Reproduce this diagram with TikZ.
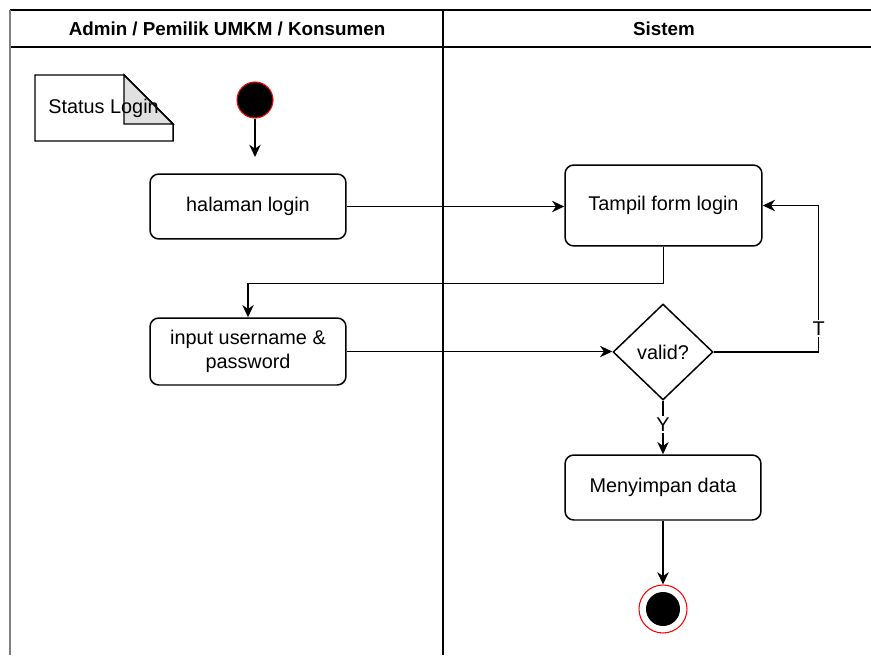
\documentclass[tikz,border=0pt]{standalone}
\usepackage{fontspec}
\setmainfont{Liberation Sans}
\usetikzlibrary{shapes.geometric,arrows.meta}

\tikzset{
    act/.style={draw, line width=0.85pt, rounded corners=5pt, minimum width=3.92cm,
        minimum height=1.3cm, align=center, font=\fontsize{11.3}{13.6}\selectfont},
    decide/.style={draw, line width=0.85pt, diamond, aspect=1, minimum width=2cm,
        minimum height=1.92cm, inner sep=0pt, font=\fontsize{11.3}{13.6}\selectfont},
    flow/.style={line width=0.85pt, -{Stealth[length=7pt, width=6.5pt]}},
    lbl/.style={fill=white, inner sep=1pt, font=\fontsize{11.3}{13.6}\selectfont},
    lanehead/.style={font=\bfseries\fontsize{10.7}{13}\selectfont},
}

\begin{document}
\begin{tikzpicture}[x={(0.02cm,0cm)}, y={(0cm,-0.02cm)}]

    \useasboundingbox (0,0) rectangle (871,655);

    %% Swimlanes
    \draw[line width=1.2pt] (10,10) -- (871,10);
    \draw[line width=1.2pt] (10,47) -- (871,47);
    \draw[line width=1.6pt, gray] (10,10) -- (10,655);
    \draw[line width=1pt] (443,10) -- (443,655);
    \node[lanehead] (laneuser) at (227,29) {Admin / Pemilik UMKM / Konsumen};
    \node[lanehead] (lanesys) at (664,29) {Sistem};

    %% Note
    \draw[line width=0.85pt, fill=white] (35,75) -- (124,75) -- (173,124) -- (173,141) -- (35,141) -- cycle;
    \draw[line width=0.85pt, fill=black!12] (124,75) -- (124,124) -- (173,124) -- cycle;
    \node[anchor=west, inner sep=0pt, font=\fontsize{11.3}{13.6}\selectfont] (note) at (48,108) {Status Login};

    %% Start
    \node[circle, fill=black, draw=red, line width=0.6pt, minimum size=0.72cm, inner sep=0pt] (start) at (255,100) {};
    \coordinate (startend) at (255,157);
    \draw[flow] (start) -- (startend);

    % Activities
    \node[act] (halaman) at (248,206.5) {halaman login};
    \node[act, minimum width=3.94cm, minimum height=1.62cm] (tampil) at (663.5,205.5) {Tampil form login};
    \node[act, minimum height=1.34cm] (input) at (248,351.5) {input username \&\\password};
    \node[decide] (valid) at (663,352) {valid?};
    \node[act] (simpan) at (663,487.5) {Menyimpan data};

    %% End
    \node[circle, draw=red, fill=white, line width=0.6pt, minimum size=0.96cm, inner sep=0pt,
        path picture={\fill[black] (path picture bounding box.center) circle (0.34cm);}] (end) at (663,609) {};

    % Flows
    \draw[flow] (halaman.east) -- (halaman.east -| tampil.west);
    \draw[flow] (tampil.south) -- ++(0,37) -| (input.north);
    \draw[flow] (input.east) -- (input.east -| valid.west);
    \draw[flow] (valid.east) -- ++(105,0) |- (tampil.east) node[lbl, pos=0.08] {T};
    \draw[flow] (valid.south) -- (simpan.north) node[lbl, pos=0.45] {Y};
    \draw[flow] (simpan.south) -- (end.north);

\end{tikzpicture}
\end{document}
